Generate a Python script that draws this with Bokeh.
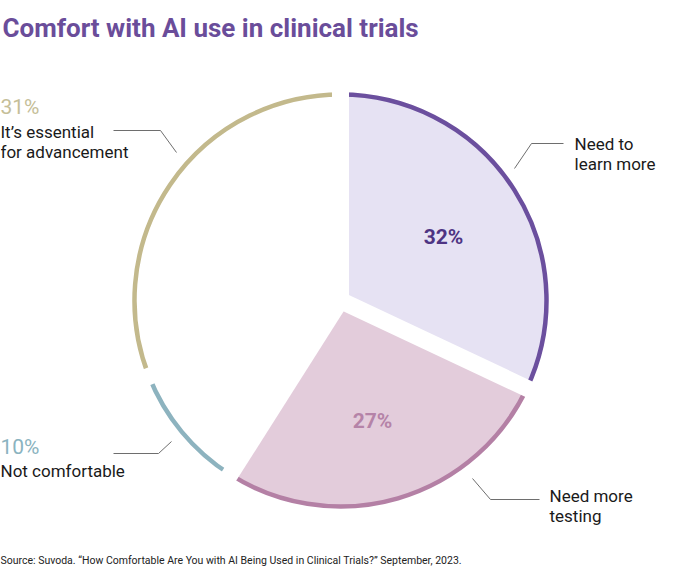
import numpy as np
from bokeh.plotting import figure
from bokeh.models import ColumnDataSource
from bokeh.core.properties import value
from bokeh.embed import file_html
from bokeh.resources import INLINE

# ---- data ----
categories = ["Need to learn more", "Need more testing", "Not comfortable", "It's essential for advancement"]
shares = [32, 27, 10, 31]
fill_colors = ["#E6E2F3", "#E3CCDB", "#FFFFFF", "#FFFFFF"]
arc_colors = ["#6B4F9E", "#B480A5", "#8DB3BF", "#C3B98C"]
title_text = "Comfort with AI use in clinical trials"
source_text = "Source: Suvoda. \u201cHow Comfortable Are You with AI Being Used in Clinical Trials?\u201d September, 2023."

W, H = 681, 570
FONT = "Roboto"


def X(rx):
    return rx


def Y(ry):
    return H - ry


cx, cy, R = X(340), Y(300), 206

vals = np.array(shares, dtype=float)
cum = np.cumsum(vals)
start_cw = (cum - vals) / vals.sum() * 2 * np.pi
end_cw = cum / vals.sum() * 2 * np.pi
start_b = np.pi / 2 - end_cw
end_b = np.pi / 2 - start_cw

src = ColumnDataSource(dict(
    cat=categories, start=start_b, end=end_b,
    fill=fill_colors, line=arc_colors,
))

p = figure(width=W, height=H, x_range=(0, W), y_range=(0, H),
           output_backend="svg", toolbar_location=None, min_border=0,
           x_axis_location=None, y_axis_location=None)
p.grid.visible = False
p.outline_line_color = None
p.background_fill_color = "white"
p.border_fill_color = "white"

p.wedge(x=cx, y=cy, radius=R, start_angle="start", end_angle="end",
        fill_color="fill", line_color=None, source=src)
p.arc(x=cx, y=cy, radius=R, start_angle="start", end_angle="end",
      line_color="line", line_width=4.5, source=src)
# white gaps between slices
p.ray(x=cx, y=cy, length=R + 12, angle=list(end_b), line_color="white", line_width=17)

# percentages inside filled slices
p.text(x=[X(443)], y=[Y(236.5)], text=[f"{shares[0]}%"], text_color="#4E3483",
       text_font=value(FONT), text_font_style="bold", text_font_size="21px",
       text_align="center", text_baseline="middle")
p.text(x=[X(372)], y=[Y(420.5)], text=[f"{shares[1]}%"], text_color="#B583A8",
       text_font=value(FONT), text_font_style="bold", text_font_size="21px",
       text_align="center", text_baseline="middle")

# outside percentages
p.text(x=[0], y=[Y(106.5)], text=[f"{shares[3]}%"], text_color="#C5BE98",
       text_font=value(FONT), text_font_size="21px", text_baseline="middle")
p.text(x=[0], y=[Y(446.5)], text=[f"{shares[2]}%"], text_color="#8AB3C0",
       text_font=value(FONT), text_font_size="21px", text_baseline="middle")

# category labels
lab_x = [0, 0, X(574), X(574), X(549), X(549), 0]
lab_y = [Y(131.5), Y(151.5), Y(143), Y(163), Y(495.5), Y(515), Y(470)]
lab_t = ["It\u2019s essential", "for advancement", "Need to", "learn more",
         "Need more", "testing", "Not comfortable"]
p.text(x=lab_x, y=lab_y, text=lab_t, text_color="#1A1A1A",
       text_font=value(FONT), text_font_size="17px", text_baseline="middle")

# leader lines
leaders_x = [[X(113), X(160), X(176)], [X(563), X(531), X(514)],
             [X(539), X(490), X(472)], [X(113), X(158), X(171)]]
leaders_y = [[Y(130), Y(130), Y(152)], [Y(143), Y(143), Y(168)],
             [Y(499), Y(499), Y(478)], [Y(453), Y(453), Y(441)]]
p.multi_line(xs=leaders_x, ys=leaders_y, line_color="#6E6E6E", line_width=1)

# title and source
p.text(x=[X(2)], y=[Y(27.5)], text=[title_text], text_color="#6A4D9A",
       text_font=value(FONT), text_font_style="bold", text_font_size="26px",
       text_baseline="middle")
p.text(x=[0], y=[10], text=[source_text], text_color="#222222",
       text_font=value(FONT), text_font_size="10.5px", text_baseline="middle")

open("out.html", "w").write(file_html(p, INLINE))
